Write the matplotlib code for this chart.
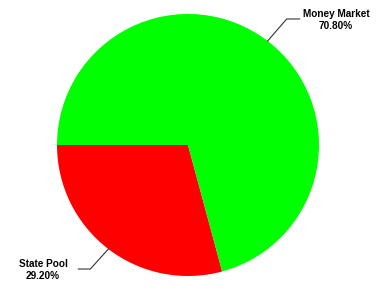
import numpy as np
import matplotlib
matplotlib.use("Agg")
import matplotlib.pyplot as plt

labels = ["State Pool", "Money Market"]
values = [29.20, 70.80]
colors = ["#ff0000", "#00ff00"]

W, H = 381, 290
fig = plt.figure(figsize=(W / 100, H / 100), dpi=100)
ax = fig.add_axes([0, 0, 1, 1])

cx, cy, r = 188, 145, 131
wedges, _ = ax.pie(values, colors=colors, startangle=180, counterclock=True,
                   center=(cx, cy), radius=r, frame=True,
                   wedgeprops=dict(linewidth=0))
ax.set_xlim(0, W)
ax.set_ylim(0, H)
ax.set_aspect("equal")
ax.axis("off")

font = dict(family=["Liberation Sans", "DejaVu Sans"], fontweight="bold", fontsize=7.2)
cfg = {
    "Money Market": dict(dx=19, dy=22, hx=13, tx=336),
    "State Pool": dict(dx=-18, dy=-20, hx=-12, tx=43),
}
for w, lab, v in zip(wedges, labels, values):
    ang = np.deg2rad((w.theta1 + w.theta2) / 2)
    x0 = cx + r * np.cos(ang)
    y0 = cy + r * np.sin(ang)
    c = cfg[lab]
    x1, y1 = x0 + c["dx"], y0 + c["dy"]
    x2 = x1 + c["hx"]
    ax.plot([x0, x1, x2], [y0, y1, y1], color="#333333", lw=0.8)
    ax.text(c["tx"], y1 - 1, f"{lab}\n{v:.2f}%", ha="center", va="center",
            linespacing=1.2, color="black", **font)

fig.savefig("out.png", dpi=100)
